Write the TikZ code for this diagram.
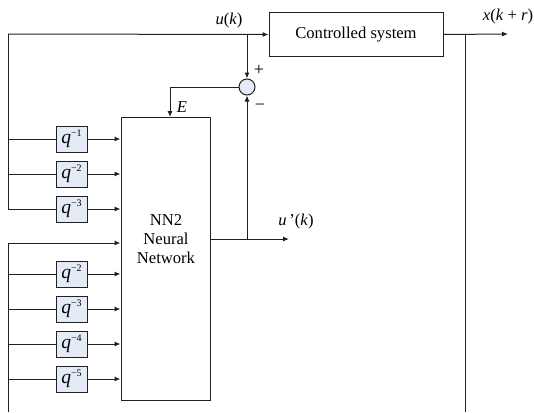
\documentclass[tikz,border=0pt]{standalone}
\usepackage{fontspec}
\setmainfont{Liberation Serif}
\usetikzlibrary{arrows.meta}
\definecolor{boxfill}{HTML}{E4EBF6}
\definecolor{linecol}{HTML}{202020}
\newcommand{\dq}[1]{\fontsize{19.5}{19.5}\selectfont\textit{q}\raisebox{7.5pt}{\fontsize{10}{10}\selectfont −#1}}
\begin{document}
\begin{tikzpicture}[x=1pt,y=-1pt,
  line/.style={draw=linecol,line width=1pt},
  arr/.style={line,-{Latex[length=6pt,width=5pt]}},
  delaybox/.style={draw=linecol,line width=1pt,fill=boxfill,minimum width=31pt,minimum height=26pt,inner sep=0pt},
  txt/.style={font=\fontsize{16.6}{19}\selectfont,inner sep=0pt}]
\useasboundingbox (0,0) rectangle (534,412);
% blocks
\node[draw=linecol,line width=1pt,minimum width=174pt,minimum height=43pt,inner sep=0pt,txt] (cs) at (356,34.5) {Controlled system};
\node[draw=linecol,line width=1pt,minimum width=89pt,minimum height=283pt,inner sep=0pt] (nn) at (165.5,258.5) {};
\node[txt,align=center] (nnlbl) at (166,239) {NN2\\Neural\\Network};
\node[circle,draw=linecol,line width=1pt,fill=boxfill,minimum size=16pt,inner sep=0pt] (sum) at (247,87) {};
% delay boxes
\node[delaybox] (d1) at (71.5,139) {\dq{1}};
\node[delaybox] (d2) at (71.5,174) {\dq{2}};
\node[delaybox] (d3) at (71.5,209) {\dq{3}};
\node[delaybox] (e2) at (71.5,274) {\dq{2}};
\node[delaybox] (e3) at (71.5,309) {\dq{3}};
\node[delaybox] (e4) at (71.5,344) {\dq{4}};
\node[delaybox] (e5) at (71.5,379) {\dq{5}};
% coordinates
\coordinate (tl) at (8,34);
\coordinate (ub) at (247,34);
\coordinate (xo) at (508,34);
\coordinate (xb) at (465,34);
\coordinate (xbot) at (465,412);
\coordinate (ein) at (170,117);
\coordinate (uj) at (247,239);
\coordinate (uo) at (289,239);
\coordinate (lt) at (8,243);
\coordinate (lb) at (8,412);
% top loop
\draw[line] (d3.west -| tl) -- (tl);
\draw[arr] (tl) -- (cs.west);
\draw[arr] (ub) -- (sum.north);
\draw[arr] (sum.west) -| (ein);
\draw[arr] (uj) -- (sum.south);
\draw[arr] (nn.east |- uo) -- (uo);
\draw[arr] (cs.east) -- (xo);
\draw[line] (xb) -- (xbot);
% delayed inputs, upper group
\foreach \b in {d1,d2,d3}{
  \draw[line] (\b.west -| tl) -- (\b.west);
  \draw[arr] (\b.east) -- (\b.east -| nn.west);
}
% lower group
\draw[line] (lb) -- (lt);
\draw[arr] (lt) -- (lt -| nn.west);
\foreach \b in {e2,e3,e4,e5}{
  \draw[line] (\b.west -| lt) -- (\b.west);
  \draw[arr] (\b.east) -- (\b.east -| nn.west);
}
% labels
\node[txt] (luk) at (229,21) {\textit{u}(\textit{k})};
\node[txt] (lx) at (508,17) {\textit{x}(\textit{k} + \textit{r})};
\node[txt,font=\fontsize{18}{18}\selectfont] (lplus) at (259,70) {+};
\node[txt,font=\fontsize{18}{18}\selectfont] (lminus) at (260,107) {−};
\node[txt] (lE) at (182,107) {\textit{E}};
\node[txt] (lup) at (296,222) {\textit{u}\,'(\textit{k})};
\end{tikzpicture}
\end{document}
